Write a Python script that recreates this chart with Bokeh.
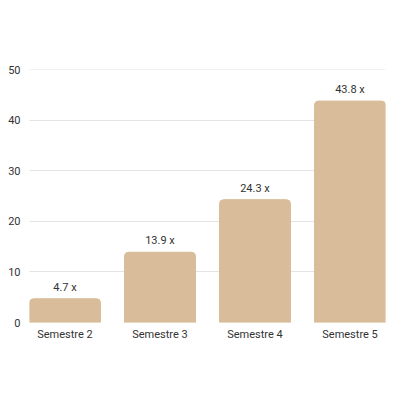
from bokeh.plotting import figure
from bokeh.models import ColumnDataSource, FixedTicker, SingleIntervalTicker, LabelSet, Range1d
from bokeh.embed import file_html
from bokeh.resources import INLINE
from bokeh.core.properties import value

categories = ["Semestre 2", "Semestre 3", "Semestre 4", "Semestre 5"]
values = [4.7, 13.9, 24.3, 43.8]
labels = ["4.7 x", "13.9 x", "24.3 x", "43.8 x"]

pos = list(range(len(categories)))
bar_w = 0.747
src = ColumnDataSource(dict(x=pos, val=values, lab=labels))

p = figure(x_range=Range1d(-bar_w / 2, pos[-1] + bar_w / 2), y_range=Range1d(0, 50.05),
           width=392, height=384,
           output_backend="svg", toolbar_location=None,
           min_border_left=29, min_border_right=7, min_border_top=69, min_border_bottom=62)
p.vbar(x="x", top="val", width=bar_w, source=src, color="#D9BD9B",
       border_radius=(4, 4, 0, 0))
p.add_layout(LabelSet(x="x", y="val", text="lab", source=src, y_offset=5,
                      text_align="center", text_baseline="bottom",
                      text_font=value("Roboto"), text_font_size="11px", text_color="#333333"))

p.outline_line_color = None
p.xgrid.grid_line_color = None
p.ygrid.grid_line_color = "#E3E3E3"
p.yaxis.ticker = SingleIntervalTicker(interval=10)
p.xaxis.ticker = FixedTicker(ticks=pos)
p.xaxis.major_label_overrides = {i: c for i, c in zip(pos, categories)}
for ax in (p.xaxis, p.yaxis):
    ax.axis_line_color = None
    ax.major_tick_line_color = None
    ax.minor_tick_line_color = None
    ax.major_tick_out = 0
    ax.major_tick_in = 0
    ax.minor_tick_out = 0
    ax.major_label_text_font = "Roboto"
    ax.major_label_text_font_size = "11px"
    ax.major_label_text_color = "#333333"
p.yaxis.major_label_standoff = 9
p.xaxis.major_label_standoff = 5
p.background_fill_color = "white"
p.border_fill_color = "white"

open("out.html", "w").write(file_html(p, INLINE))
